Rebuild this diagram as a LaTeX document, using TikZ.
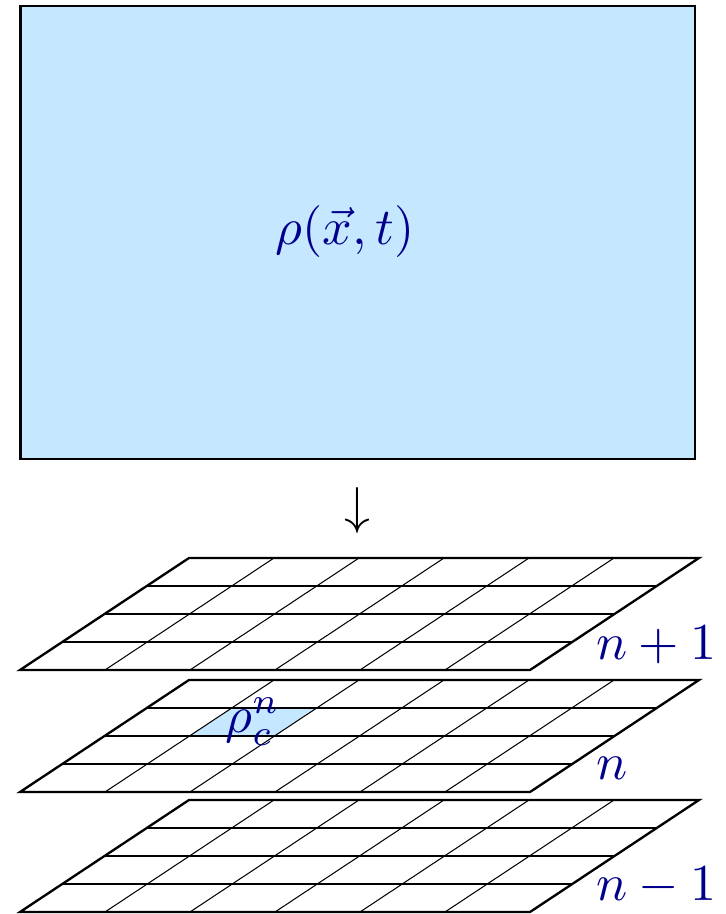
\documentclass[tikz,border=0pt]{standalone}
\usepackage{amsmath,amssymb}
\usetikzlibrary{calc}
\definecolor{cellblue}{RGB}{197,231,255}
\definecolor{labelblue}{RGB}{0,0,140}
\tikzset{
  border/.style={line width=0.45pt},
  gridline/.style={line width=0.2pt},
  layerlabel/.style={text=labelblue, inner sep=0pt, anchor=base west},
  skew/.style={x={(0.85cm,0cm)}, y={(0.4225cm,0.28cm)}}
}

\begin{document}
\begin{tikzpicture}[scale=0.678]
    \useasboundingbox (0,0) rectangle (7.25,9.14);

    % Continuous field
    \draw[border, fill=cellblue] (0.205,9.08) rectangle (6.95,4.55);
    \node[text=labelblue] (field) at (3.45,6.82) {$\rho(\vec{x},t)$};

    % Discretisation step
    \node (down) at (3.57,4.03) {$\downarrow$};

    % Highlighted cell in layer n
    \begin{scope}[shift={(0.2,1.22)}, skew]
      \fill[cellblue] (1,2) -- (2,2) -- (2,3) -- (1,3) -- cycle;
      \coordinate (cell) at (1.5,2.5);
    \end{scope}

    % Time layers
    \foreach \ybase/\name/\txt/\dy in {2.44/up/{n+1}/0.10, 1.22/now/n/0.12, 0.02/low/{n-1}/0.11} {
      \begin{scope}[shift={(0.2,\ybase)}, skew]
        \foreach \i in {1,...,5}
          \draw[gridline] (\i,0) -- (\i,4);
        \foreach \j in {1,2,3}
          \draw[gridline] (0,\j) -- (6,\j);
        \draw[border] (0,0) -- (6,0) -- (6,4) -- (0,4) -- cycle;
        \coordinate (\name-se) at (6,0);
      \end{scope}
      \node[layerlabel] (lab-\name) at ($(\name-se)+(0.65,\dy)$) {$\txt$};
    }

    \node[text=labelblue] (cellval) at (cell) {$\rho_c^n$};
\end{tikzpicture}
\end{document}
